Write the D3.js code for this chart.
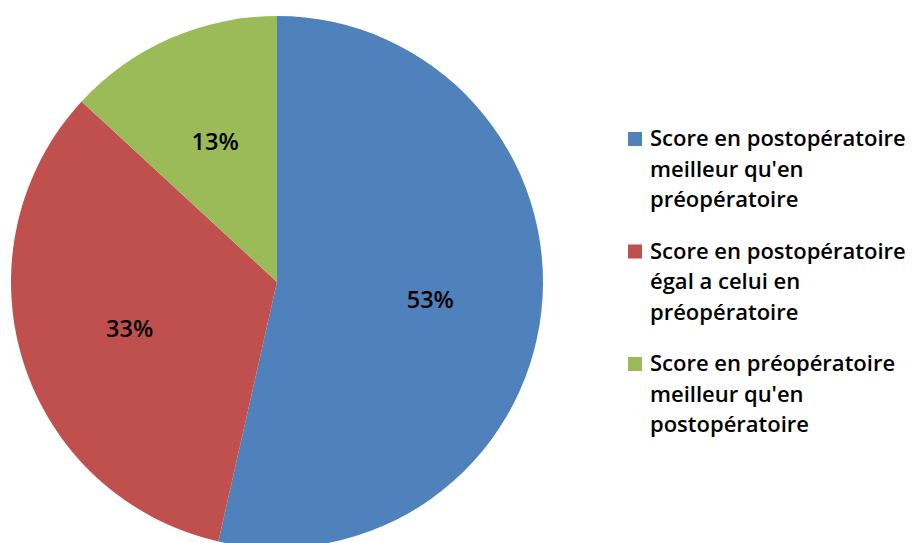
<!DOCTYPE html>
<html>
<head>
<meta charset="utf-8">
<script src="https://cdn.jsdelivr.net/npm/d3@7"></script>
<style>
  html, body { margin: 0; padding: 0; background: #ffffff; }
  svg { display: block; }
  text { font-family: "Open Sans", Lato, sans-serif; font-weight: 600; fill: #000; }
</style>
</head>
<body>
<svg id="chart" width="913" height="543"></svg>
<script>
// Répartition des scores postopératoires vs préopératoires
const categories = [
  "Score en postopératoire meilleur qu'en préopératoire",
  "Score en postopératoire égal a celui en préopératoire",
  "Score en préopératoire meilleur qu'en postopératoire"
];
const legendLines = [
  ["Score en postopératoire", "meilleur qu'en", "préopératoire"],
  ["Score en postopératoire", "égal a celui en", "préopératoire"],
  ["Score en préopératoire", "meilleur qu'en", "postopératoire"]
];
const values = [53, 33, 13];
const labels = ["53%", "33%", "13%"];
const colors = ["#4F81BD", "#C0504D", "#9BBB59"];

const svg = d3.select("#chart");
const cx = 277, cy = 282, radius = 266;

const pie = d3.pie().sort(null).value(d => d.value);
const arcs = pie(values.map((v, i) => ({ value: v, label: labels[i], color: colors[i] })));

const arc = d3.arc().innerRadius(0).outerRadius(radius);
const labelArc = d3.arc().innerRadius(radius * 0.58).outerRadius(radius * 0.58);

const g = svg.append("g").attr("transform", `translate(${cx},${cy})`);

g.selectAll("path.slice")
  .data(arcs)
  .join("path")
  .attr("class", "slice")
  .attr("d", arc)
  .attr("fill", d => d.data.color);

g.selectAll("text.pct")
  .data(arcs)
  .join("text")
  .attr("class", "pct")
  .attr("transform", d => `translate(${labelArc.centroid(d)})`)
  .attr("text-anchor", "middle")
  .attr("dominant-baseline", "central")
  .style("font-size", "23.5px")
  .text(d => d.data.label);

// Légende
const legend = svg.append("g").attr("transform", "translate(628,132)");
const groupStep = 112.5, lineStep = 30.5;

const items = legend.selectAll("g.item")
  .data(categories)
  .join("g")
  .attr("class", "item")
  .attr("transform", (d, i) => `translate(0,${i * groupStep})`);

items.append("rect")
  .attr("width", 14)
  .attr("height", 14)
  .attr("fill", (d, i) => colors[i]);

items.append("text")
  .attr("x", 22)
  .attr("y", 14)
  .style("font-size", "22px")
  .selectAll("tspan")
  .data((d, i) => legendLines[i])
  .join("tspan")
  .attr("x", 22)
  .attr("dy", (d, j) => j === 0 ? 0 : lineStep)
  .text(d => d);
</script>
</body>
</html>
